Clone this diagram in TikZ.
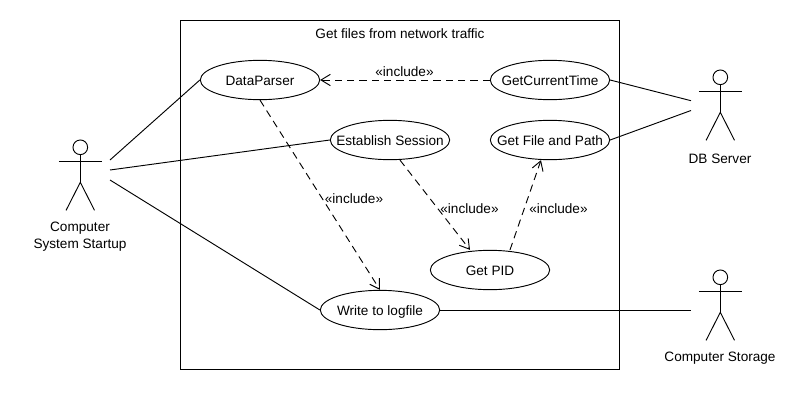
\documentclass[tikz,border=0pt]{standalone}
\usepackage{fontspec}
\setmainfont{Liberation Sans}
\usetikzlibrary{arrows.meta,shapes.geometric}
\newcommand{\uctext}[1]{\smash{\raisebox{-4.2pt}{\makebox[0pt]{#1}}}}
\tikzset{
 uc/.style={draw,ellipse,minimum width=89.5pt,minimum height=29.5pt,inner sep=0pt,font=\fontsize{10.2pt}{12pt}\selectfont},
 lbl/.style={font=\fontsize{10.2pt}{12pt}\selectfont,align=center,inner sep=0pt},
 inc/.style={draw,dash pattern=on 5.5pt off 3.75pt,-{Straight Barb[length=7pt,width=8.5pt]}},
 every path/.style={line width=0.7pt}
}
\newcommand{\myactor}[2]{%
 \draw (#1,#2) circle (5.5pt);
 \draw (#1,#2+7.3) -- (#1,#2+35.3);
 \draw (#1-21.5,#2+14) -- (#1+21.5,#2+14);
 \draw (#1-14.2,#2+63) -- (#1,#2+35) -- (#1+14.2,#2+63);
}
\begin{document}
\begin{tikzpicture}[x=0.75pt,y=-0.75pt]
\useasboundingbox (0,0) rectangle (810,400);
\path[fill=white] (0,0) rectangle (810,400);
\node[draw,minimum width=329.25pt,minimum height=261.75pt,inner sep=0pt] (sys) at (400,195) {};
\node[lbl] (title) at (400,33.5) {Get files from network traffic};
\node[uc] (dp) at (260,80) {\uctext{DataParser}};
\node[uc] (gct) at (550,80) {\uctext{GetCurrentTime}};
\node[uc] (es) at (390,140) {\uctext{Establish Session}};
\node[uc] (gfp) at (550,140) {\uctext{Get File and Path}};
\node[uc] (pid) at (490,270) {\uctext{Get PID}};
\node[uc] (log) at (380,310) {\uctext{Write to logfile}};
\myactor{80.3}{147.3}
\node[lbl] (a1t) at (80,236.5) {Computer\\[0.6pt]System Startup};
\coordinate (a1c) at (110,160);
\coordinate (a1d) at (110,170);
\coordinate (a1e) at (110,180);
\myactor{720.3}{77.3}
\node[lbl] (a2t) at (720,158.5) {DB Server};
\coordinate (a2c) at (691,100.7);
\coordinate (a2d) at (691,110.5);
\myactor{720.3}{277.3}
\node[lbl] (a3t) at (720,358.5) {Computer Storage};
\coordinate (a3c) at (691,310);
\draw (a1c) -- (dp.west);
\draw (a1d) -- (es.west);
\draw (a1e) -- (log.west);
\draw (gct.east) -- (a2c);
\draw (gfp.east) -- (a2d);
\draw (log.east) -- (a3c);
\path[inc] (gct.west) -- (dp.east);
\path[inc] (dp.south) -- (log.north);
\path[inc] ([xshift=7.5pt]es.south) -- ([xshift=-15pt]pid.north);
\path[inc] ([xshift=15pt]pid.north) -- ([xshift=-6.75pt]gfp.south);
\node[lbl] (l0) at (404.5,72) {«include»};
\node[lbl] (l1) at (354,199) {«include»};
\node[lbl] (l2) at (469.5,208.5) {«include»};
\node[lbl] (l3) at (558.5,208.5) {«include»};
\end{tikzpicture}
\end{document}
